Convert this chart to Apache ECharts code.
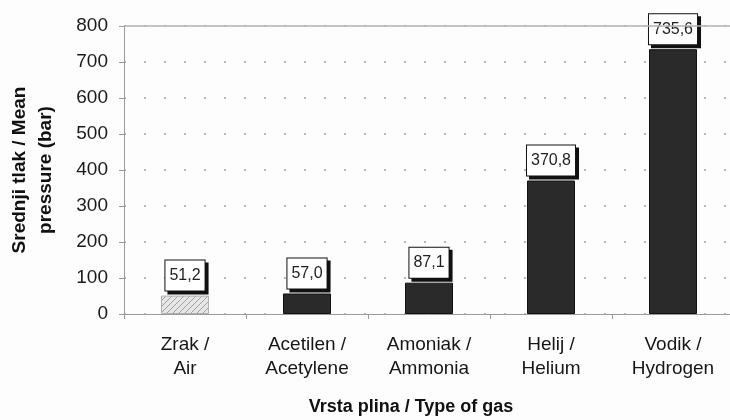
<!DOCTYPE html>
<html>
  <head>
    <meta charset="utf-8" />
    <title>Mean pressure by gas</title>
    <script src="https://cdn.jsdelivr.net/npm/echarts@6/dist/echarts.min.js"></script>
    <style>
      html, body { margin: 0; padding: 0; background: #fdfdfd; }
    </style>
  </head>
  <body>
    <div id="main" style="width: 730px;height: 420px;"></div>
    <script type="text/javascript">
      var gases = ['Zrak /\nAir', 'Acetilen /\nAcetylene', 'Amoniak /\nAmmonia', 'Helij /\nHelium', 'Vodik /\nHydrogen'];
      var pressures = [51.2, 57.0, 87.1, 370.8, 735.6];
      var yTicks = [0, 100, 200, 300, 400, 500, 600, 700, 800];

      // hatched fill for the air bar
      function hatch() {
        var c = document.createElement('canvas');
        c.width = 6;
        c.height = 6;
        var ctx = c.getContext('2d');
        ctx.fillStyle = '#e6e6e6';
        ctx.fillRect(0, 0, 6, 6);
        ctx.strokeStyle = '#a0a0a0';
        ctx.lineWidth = 1;
        ctx.beginPath();
        ctx.moveTo(0, 6);
        ctx.lineTo(6, 0);
        ctx.moveTo(-3, 3);
        ctx.lineTo(3, -3);
        ctx.moveTo(3, 9);
        ctx.lineTo(9, 3);
        ctx.stroke();
        return c;
      }

      var barData = pressures.map(function (v, i) {
        if (i === 0) {
          return {
            value: v,
            itemStyle: {
              color: { image: hatch(), repeat: 'repeat' },
              borderColor: '#b0b0b0',
              borderWidth: 1
            }
          };
        }
        return v;
      });

      var myChart = echarts.init(document.getElementById('main'));
      var option = {
        backgroundColor: '#fdfdfd',
        animation: false,
        textStyle: { fontFamily: 'Liberation Sans, Arial, sans-serif' },
        grid: { left: 124, right: -4, top: 26, bottom: 106, outerBoundsMode: 'none', containLabel: false },
        xAxis: {
          type: 'category',
          data: gases,
          name: 'Vrsta plina / Type of gas',
          nameLocation: 'middle',
          nameGap: 84,
          nameTextStyle: {
            fontSize: 18,
            fontWeight: 'bold',
            color: '#111',
            padding: [0, 36, 0, 0]
          },
          axisLine: { lineStyle: { color: '#9a9a9a', width: 1 } },
          axisTick: { show: true, length: 5, lineStyle: { color: '#9a9a9a' } },
          axisLabel: {
            margin: 19,
            fontSize: 19,
            lineHeight: 24,
            color: '#161616'
          }
        },
        yAxis: {
          type: 'value',
          min: 0,
          max: 800,
          interval: 100,
          name: 'Srednji tlak / Mean\npressure (bar)',
          nameLocation: 'middle',
          nameGap: 65,
          nameTextStyle: {
            fontSize: 19,
            fontWeight: 'bold',
            color: '#111',
            lineHeight: 26
          },
          axisLine: { show: true, lineStyle: { color: '#9a9a9a', width: 1 } },
          axisTick: { show: true, length: 5, lineStyle: { color: '#9a9a9a' } },
          axisLabel: {
            margin: 16,
            fontSize: 19,
            color: '#1a1a1a',
            formatter: function (v) { return yTicks.indexOf(v) >= 0 ? String(v) : ''; }
          },
          splitLine: {
            show: true,
            lineStyle: {
              color: ['#a0a0a0', '#a0a0a0', '#a0a0a0', '#a0a0a0', '#a0a0a0', '#a0a0a0', '#a0a0a0', '#a0a0a0', '#b8b8b8'],
              type: [2, 18],
              width: 1.5
            }
          }
        },
        series: [
          {
            type: 'bar',
            data: barData,
            barWidth: 48,
            itemStyle: { color: '#2a2a2a', borderColor: '#111', borderWidth: 1 },
            label: {
              show: true,
              position: 'top',
              distance: 5,
              fontSize: 16,
              color: '#222',
              backgroundColor: '#fff',
              borderColor: '#111',
              borderWidth: 1,
              padding: [7, 4, 7, 4],
              shadowColor: '#111',
              shadowBlur: 0,
              shadowOffsetX: 3,
              shadowOffsetY: 3,
              formatter: function (p) { return p.value.toFixed(1).replace('.', ','); }
            }
          },
          {
            // solid top border line at 800
            type: 'line',
            data: [],
            markLine: {
              silent: true,
              symbol: 'none',
              label: { show: false },
              lineStyle: { color: '#b0b0b0', type: 'solid', width: 1.5 },
              data: [{ yAxis: 800 }]
            }
          }
        ]
      };
      myChart.setOption(option);
    </script>
  </body>
</html>
